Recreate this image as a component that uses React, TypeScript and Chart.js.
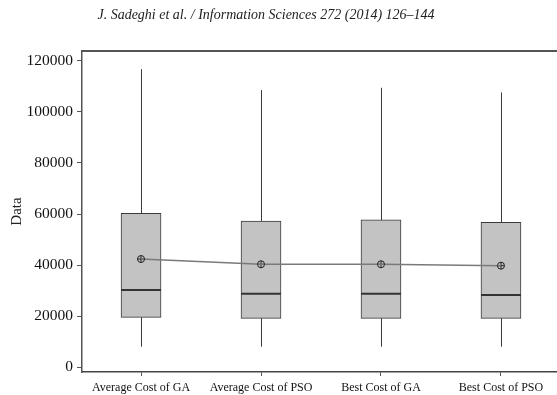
import React, { useEffect, useRef } from 'react';
import { Chart, registerables } from 'chart.js';

Chart.register(...registerables);

const categories = ['Average Cost of GA', 'Average Cost of PSO', 'Best Cost of GA', 'Best Cost of PSO'];
const whiskerLow = [8100, 8100, 8100, 8100];
const q1 = [19600, 19200, 19200, 19200];
const median = [30300, 28850, 28850, 28350];
const q3 = [60300, 57300, 57700, 56800];
const whiskerHigh = [116700, 108500, 109400, 107600];
const means = [42400, 40350, 40350, 39800];
const yTicks = [0, 20000, 40000, 60000, 80000, 100000, 120000];
const header = 'J. Sadeghi et al. / Information Sciences 272 (2014) 126–144';
const yTitle = 'Data';

const boxPlugin = {
  id: 'boxParts',
  beforeDatasetsDraw(chart: any) {
    const { ctx, scales } = chart;
    const x = scales.x;
    const y = scales.y;
    ctx.save();
    ctx.strokeStyle = '#3a3a3a';
    ctx.lineWidth = 1;
    categories.forEach((_, i) => {
      const px = Math.round(x.getPixelForValue(i + 1)) + 0.5;
      ctx.beginPath();
      ctx.moveTo(px, y.getPixelForValue(whiskerHigh[i]));
      ctx.lineTo(px, y.getPixelForValue(q3[i]));
      ctx.moveTo(px, y.getPixelForValue(q1[i]));
      ctx.lineTo(px, y.getPixelForValue(whiskerLow[i]));
      ctx.stroke();
    });
    ctx.restore();
  },
  afterDatasetsDraw(chart: any) {
    const { ctx, scales } = chart;
    const y = scales.y;
    const meta = chart.getDatasetMeta(2);
    ctx.save();
    ctx.strokeStyle = '#333';
    ctx.lineWidth = 2;
    meta.data.forEach((el: any, i: number) => {
      const py = y.getPixelForValue(median[i]);
      ctx.beginPath();
      ctx.moveTo(el.x - el.width / 2, py);
      ctx.lineTo(el.x + el.width / 2, py);
      ctx.stroke();
    });
    ctx.restore();
  },
  afterDraw(chart: any) {
    const { ctx, chartArea } = chart;
    ctx.save();
    ctx.strokeStyle = '#555';
    ctx.lineWidth = 2;
    ctx.beginPath();
    ctx.moveTo(chartArea.left - 0.75, chartArea.top);
    ctx.lineTo(chartArea.right, chartArea.top);
    ctx.stroke();
    ctx.fillStyle = '#222';
    ctx.font = 'italic 14px "Liberation Serif"';
    ctx.textAlign = 'center';
    ctx.textBaseline = 'middle';
    ctx.fillText(header, 266, 15);
    ctx.restore();
  },
};

export default function App() {
  const ref = useRef<HTMLCanvasElement>(null);
  useEffect(() => {
    if (!ref.current) return;
    const chart = new Chart(ref.current, {
      type: 'bar',
      data: {
        datasets: [
          {
            type: 'line',
            data: means.map((m, i) => ({ x: i + 1, y: m })),
            borderColor: '#7a7a7a',
            borderWidth: 1.5,
            pointStyle: 'circle',
            pointRadius: 3.5,
            pointBorderColor: '#222',
            pointBackgroundColor: 'rgba(0,0,0,0)',
            pointBorderWidth: 1,
          } as any,
          {
            type: 'line',
            data: means.map((m, i) => ({ x: i + 1, y: m })),
            showLine: false,
            pointStyle: 'cross',
            pointRadius: 3.5,
            pointBorderColor: '#222',
            pointBorderWidth: 1,
          } as any,
          {
            type: 'bar',
            data: categories.map((_, i) => ({ x: i + 1, y: [q1[i], q3[i]] })),
            backgroundColor: '#c3c3c3',
            borderColor: '#3a3a3a',
            borderWidth: 1,
            borderSkipped: false,
            barThickness: 40,
          } as any,
        ],
      },
      plugins: [boxPlugin],
      options: {
        animation: false,
        responsive: false,
        devicePixelRatio: 1,
        layout: { autoPadding: false, padding: { top: 51, left: 0, right: 0, bottom: 0 } },
        plugins: { legend: { display: false }, tooltip: { enabled: false } },
        scales: {
          x: {
            type: 'linear',
            min: 0.508,
            max: 4.467,
            offset: false,
            afterBuildTicks: (s: any) => {
              s.ticks = categories.map((_, i) => ({ value: i + 1 }));
            },
            afterFit: (s: any) => {
              s.height = 23;
            },
            ticks: {
              callback: (_v: any, i: number) => categories[i] ?? '',
              font: { family: 'Liberation Serif', size: 12 },
              color: '#111',
              padding: 5,
              maxRotation: 0,
              autoSkip: false,
            },
            grid: { drawOnChartArea: false, offset: false, tickLength: 4, color: '#555' },
            border: { color: '#444', width: 1.5 },
          },
          y: {
            type: 'linear',
            min: -1800,
            max: 123800,
            afterBuildTicks: (s: any) => {
              s.ticks = yTicks.map((v) => ({ value: v }));
            },
            afterFit: (s: any) => {
              s.width = 82;
            },
            ticks: {
              callback: (v: any) => String(v),
              font: { family: 'Liberation Serif', size: 15.5 },
              color: '#111',
              padding: 4,
            },
            grid: { drawOnChartArea: false, tickLength: 5, color: '#555' },
            border: { color: '#555', width: 1.5 },
            title: {
              display: true,
              text: yTitle,
              font: { family: 'Liberation Serif', size: 15 },
              color: '#222',
              padding: { top: 8, bottom: 0 },
            },
          },
        },
      } as any,
    });
    return () => chart.destroy();
  }, []);
  return (
    <div style={{ position: 'absolute', left: 0, top: 0, width: 557, height: 395, background: '#fff' }}>
      <canvas ref={ref} width={557} height={395} />
    </div>
  );
}
